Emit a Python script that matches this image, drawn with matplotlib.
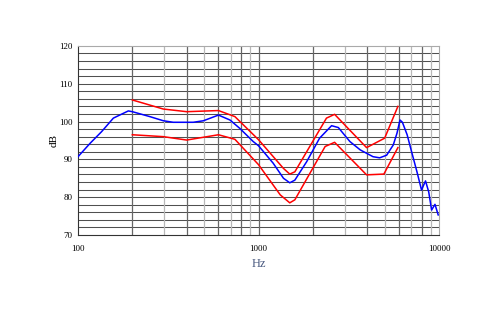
import matplotlib
matplotlib.use("Agg")
import matplotlib.pyplot as plt
from matplotlib.ticker import FixedLocator, NullFormatter

plt.rcParams["font.family"] = ["Liberation Serif", "DejaVu Serif"]

# measured response (blue)
blue_f = [100, 117, 135, 157, 190, 200, 250, 297, 337, 435, 495, 600, 695, 787,
          935, 1000, 1205, 1375, 1490, 1590, 1850, 2180, 2540, 2770, 3210, 3660,
          4310, 4690, 5130, 5580, 5850, 6080, 6270, 6660, 7050, 7550, 8000, 8420,
          8770, 9100, 9500, 9900]
blue_db = [90.7, 94.3, 97.3, 100.9, 102.8, 102.6, 101.3, 100.2, 99.8, 99.8, 100.2,
           101.7, 100.4, 98.2, 94.7, 93.6, 89.0, 85.0, 83.8, 84.5, 89.4, 95.6, 98.9,
           98.4, 94.7, 92.5, 90.7, 90.4, 91.1, 93.8, 96.9, 100.4, 99.8, 96.5, 92.0,
           86.7, 81.9, 84.3, 81.4, 76.6, 78.1, 75.3]

# tolerance limits (red)
upper_f = [200, 297, 400, 600, 740, 1000, 1375, 1490, 1590, 2380, 2640, 3970, 5000, 5920]
upper_db = [105.7, 103.3, 102.6, 102.9, 101.3, 95.2, 87.6, 86.1, 86.7, 100.9, 101.9,
            93.1, 95.6, 104.0]
lower_f = [200, 297, 400, 600, 740, 1000, 1320, 1490, 1590, 2340, 2640, 3970, 4950, 5920]
lower_db = [96.5, 96.0, 95.1, 96.5, 95.3, 88.6, 80.6, 78.5, 79.3, 93.4, 94.5, 85.9,
            86.1, 93.1]

fig = plt.figure(figsize=(5, 3.1), dpi=100)
ax = fig.add_axes([0.156, 0.242, 0.722, 0.61])
ax.set_xscale("log")
ax.set_xlim(100, 10000)
ax.set_ylim(70, 120)

# grid
for y in range(72, 120, 2):
    ax.axhline(y, color="#505050", lw=0.75, zorder=1)
vlines = [200, 300, 400, 500, 600, 700, 800, 900,
          2000, 3000, 4000, 5000, 6000, 7000, 8000, 9000]
for i, x in enumerate(vlines):
    ax.axvline(x, color="#666666" if i % 2 == 0 else "#b8b8b8", lw=0.9, zorder=1)
ax.axvline(1000, color="#666666", lw=0.9, zorder=1)

ax.plot(upper_f, upper_db, color="#ff0000", lw=1.1, zorder=3)
ax.plot(lower_f, lower_db, color="#ff0000", lw=1.1, zorder=3)
ax.plot(blue_f, blue_db, color="#0000ff", lw=1.1, zorder=4)

ax.xaxis.set_major_locator(FixedLocator([100, 1000, 10000]))
ax.xaxis.set_minor_formatter(NullFormatter())
ax.set_xticklabels(["100", "1000", "10000"])
ax.set_yticks(range(70, 121, 10))
ax.tick_params(which="both", length=0, labelsize=6.5, pad=4)
ax.tick_params(axis="x", pad=7)

for s in ["left", "bottom"]:
    ax.spines[s].set_color("#333333")
for s in ["top", "right"]:
    ax.spines[s].set_color("#aaaaaa")

ax.set_ylabel("dB", fontsize=8, labelpad=0)
ax.set_xlabel("Hz", fontsize=9, color="#4a5a80", labelpad=4)

fig.savefig("out.png", dpi=100)
